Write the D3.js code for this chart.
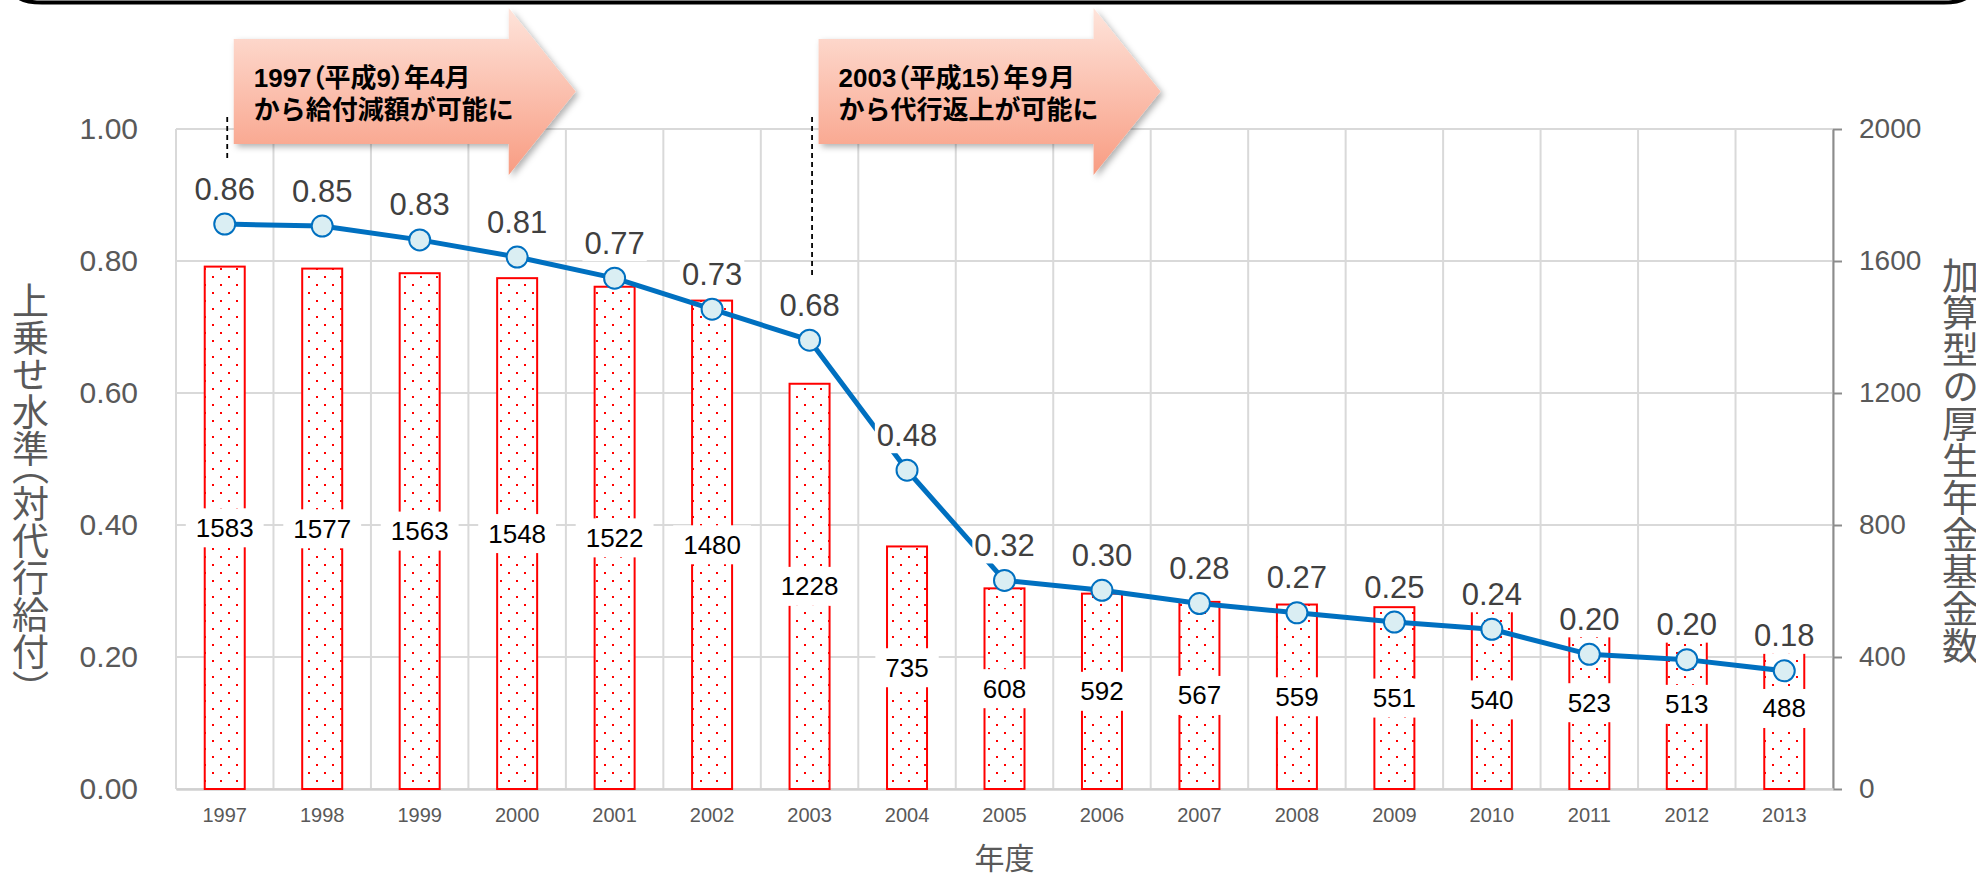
<!DOCTYPE html>
<html><head><meta charset="utf-8">
<script src="https://cdn.jsdelivr.net/npm/d3@7"></script>
<style>
html,body{margin:0;padding:0;background:#fff;}
svg{display:block;}
text{font-family:"Liberation Sans",Arial,"Noto Sans CJK JP",sans-serif;}
</style></head><body>
<svg id="chart" width="1976" height="873"></svg>
<script>
// ---- data ----
const years = ["1997","1998","1999","2000","2001","2002","2003","2004","2005","2006","2007","2008","2009","2010","2011","2012","2013"];
const fundCounts = [1583,1577,1563,1548,1522,1480,1228,735,608,592,567,559,551,540,523,513,488];
const ratioValues = [0.856,0.853,0.832,0.806,0.774,0.727,0.680,0.483,0.316,0.301,0.281,0.267,0.253,0.242,0.204,0.196,0.179];
const leftTicks = [0,0.2,0.4,0.6,0.8,1.0];
const rightTicks = [0,400,800,1200,1600,2000];
const leftTitle = "上乗せ水準（対代行給付）";
const rightTitle = "加算型の厚生年金基金数";
const xTitle = "年度";
const annotationYears = ["1997","2003"];
const annotationLine1 = ["1997（平成9）年4月","2003（平成15）年９月"];
const annotationLine2 = ["から給付減額が可能に","から代行返上が可能に"];

// ---- layout ----
const W = 1976, H = 873;
const L = 176, R = 1833, T = 129, B = 789;
const svg = d3.select("#chart");
const defs = svg.append("defs");

const x = d3.scaleBand().domain(years).range([L, R]).padding(0);
const cx = d => x(d) + x.bandwidth()/2;
const yL = d3.scaleLinear().domain([0,1]).range([B,T]);
const yR = d3.scaleLinear().domain([0,2000]).range([B,T]);

// pattern for bars
const pat = defs.append("pattern").attr("id","dots").attr("patternUnits","userSpaceOnUse")
  .attr("width",16).attr("height",16);
pat.append("rect").attr("width",16).attr("height",16).attr("fill","#fff");
pat.append("rect").attr("x",4).attr("y",4).attr("width",2).attr("height",2).attr("fill","#ff0000");
pat.append("rect").attr("x",12).attr("y",12).attr("width",2).attr("height",2).attr("fill","#ff0000");

// arrow gradient + shadow
const grad = defs.append("linearGradient").attr("id","arrowGrad").attr("x1",0).attr("y1",0).attr("x2",0).attr("y2",1);
grad.append("stop").attr("offset","0").attr("stop-color","#FEE4DB");
grad.append("stop").attr("offset","1").attr("stop-color","#F89C82");
const flt = defs.append("filter").attr("id","shadow").attr("x","-10%").attr("y","-10%").attr("width","130%").attr("height","130%");
flt.append("feDropShadow").attr("dx",3).attr("dy",3).attr("stdDeviation",3).attr("flood-color","#000").attr("flood-opacity",0.3);

// header line
svg.append("path").attr("d","M 14,-8 Q 18,2.5 42,2.5 L 1944,2.5 Q 1966,2.5 1972,-8")
  .attr("fill","none").attr("stroke","#000").attr("stroke-width",4);

// gridlines
const grid = svg.append("g");
grid.selectAll("line.h").data(leftTicks).join("line")
  .attr("x1",L).attr("x2",R).attr("y1",d=>yL(d)).attr("y2",d=>yL(d))
  .attr("stroke","#D9D9D9").attr("stroke-width",2);
const vlines = years.map(d=>x(d)).concat([R]);
grid.selectAll("line.v").data(vlines).join("line")
  .attr("x1",d=>d).attr("x2",d=>d).attr("y1",T).attr("y2",B)
  .attr("stroke","#D9D9D9").attr("stroke-width",2);

// left axis labels
const gL = svg.append("g").attr("transform",`translate(${L},0)`)
  .call(d3.axisLeft(yL).tickValues(leftTicks).tickFormat(d3.format(".2f")).tickSize(0).tickPadding(38));
gL.select(".domain").remove();
gL.selectAll("text").attr("font-size",30).attr("fill","#595959").attr("font-family","Liberation Sans, Arial, sans-serif");

// right axis
const gR = svg.append("g").attr("transform",`translate(${R},0)`)
  .call(d3.axisRight(yR).tickValues(rightTicks).tickFormat(d3.format("d")).tickSize(9).tickSizeOuter(0).tickPadding(17));
gR.select(".domain").attr("stroke","#8C8C8C").attr("stroke-width",2);
gR.selectAll(".tick line").attr("stroke","#8C8C8C").attr("stroke-width",2);
gR.selectAll("text").attr("font-size",28).attr("fill","#595959").attr("font-family","Liberation Sans, Arial, sans-serif");

// bottom axis
const gB = svg.append("g").attr("transform",`translate(0,${B})`)
  .call(d3.axisBottom(x).tickSize(0).tickPadding(19));
gB.select(".domain").attr("stroke","#D0D0D0").attr("stroke-width",2.5);
gB.selectAll("text").attr("font-size",20).attr("fill","#595959").attr("font-family","Liberation Sans, Arial, sans-serif");

// bars
const barW = 40;
svg.append("g").selectAll("rect").data(years).join("rect")
  .attr("x",(d)=>cx(d)-barW/2).attr("width",barW)
  .attr("y",(d,i)=>yR(fundCounts[i])).attr("height",(d,i)=>B-yR(fundCounts[i]))
  .attr("fill","url(#dots)").attr("stroke","#ff0000").attr("stroke-width",2);

// bar labels
const bl = svg.append("g").selectAll("g").data(years).join("g")
  .attr("transform",(d,i)=>`translate(${cx(d)},${yR(fundCounts[i]/2)})`);
bl.append("rect").attr("fill","#fff");
bl.append("text").attr("text-anchor","middle").attr("dominant-baseline","central")
  .attr("font-size",26).attr("fill","#000").text((d,i)=>fundCounts[i]);
bl.each(function(){
  const g = d3.select(this); const bb = g.select("text").node().getBBox();
  g.select("rect").attr("x",-(bb.width+20)/2).attr("width",bb.width+20).attr("y",-19.5).attr("height",39);
});

// line
const line = d3.line().x((d,i)=>cx(years[i])).y(d=>yL(d));
svg.append("path").datum(ratioValues).attr("d",line).attr("fill","none")
  .attr("stroke","#0070C0").attr("stroke-width",5).attr("stroke-linejoin","round");
svg.append("g").selectAll("circle").data(ratioValues).join("circle")
  .attr("cx",(d,i)=>cx(years[i])).attr("cy",d=>yL(d)).attr("r",10.5)
  .attr("fill","#DAEEF3").attr("stroke","#0070C0").attr("stroke-width",2);

// line labels
const ll = svg.append("g").selectAll("g").data(ratioValues).join("g")
  .attr("transform",(d,i)=>`translate(${cx(years[i])},${yL(d)-35})`);
ll.append("rect").attr("fill","#fff");
ll.append("text").attr("text-anchor","middle").attr("dominant-baseline","central")
  .attr("font-size",31).attr("fill","#404040").text(d=>d3.format(".2f")(d));
ll.each(function(){
  const g = d3.select(this); const bb = g.select("text").node().getBBox();
  g.select("rect").attr("x",-(bb.width+4)/2).attr("width",bb.width+4).attr("y",-18).attr("height",36);
});

// annotations
annotationYears.forEach((yr,k)=>{
  const i = years.indexOf(yr);
  const c = cx(yr);
  const labelY = yL(ratioValues[i]) - 35;
  svg.append("line").attr("x1",c+2.5).attr("x2",c+2.5).attr("y1",117).attr("y2",labelY-30)
    .attr("stroke","#000").attr("stroke-width",1.8).attr("stroke-dasharray","5,4");
  const bx = c + 9;
  const pts = [[bx,39],[bx+275,39],[bx+275,8],[bx+342,91.5],[bx+275,175],[bx+275,144],[bx,144]];
  svg.append("path").attr("d","M"+pts.map(p=>p.join(",")).join("L")+"Z")
    .attr("fill","url(#arrowGrad)").attr("filter","url(#shadow)");
  const t = svg.append("text").attr("font-family","'Noto Sans CJK JP', sans-serif")
    .attr("font-weight","bold").attr("font-size",26).attr("fill","#000");
  t.append("tspan").attr("x",bx+20).attr("y",78).attr("dominant-baseline","central")
    .style("font-feature-settings","'palt'").text(annotationLine1[k]);
  t.append("tspan").attr("x",bx+20).attr("y",110).attr("dominant-baseline","central").text(annotationLine2[k]);
});

// axis titles
svg.append("text").attr("x",27).attr("y",282)
  .style("writing-mode","vertical-rl").style("font-feature-settings","'vhal'")
  .attr("font-family","'Noto Sans CJK JP', sans-serif").attr("font-size",37).attr("fill","#595959")
  .text(leftTitle);
svg.append("text").attr("x",1957).attr("y",257)
  .style("writing-mode","vertical-rl").style("font-feature-settings","'vhal'")
  .attr("font-family","'Noto Sans CJK JP', sans-serif").attr("font-size",37).attr("fill","#595959")
  .text(rightTitle);
svg.append("text").attr("x",(L+R)/2).attr("y",858).attr("text-anchor","middle").attr("dominant-baseline","central")
  .attr("font-family","'Noto Sans CJK JP', sans-serif").attr("font-size",30).attr("fill","#595959")
  .text(xTitle);
</script>
</body></html>
